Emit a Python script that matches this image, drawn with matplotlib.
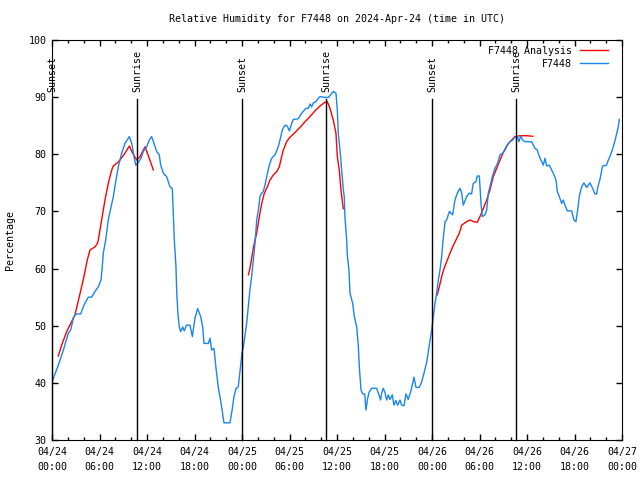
import pandas as pd
import numpy as np
import matplotlib
matplotlib.use("Agg")
import matplotlib.pyplot as plt
import matplotlib.dates as mdates
import matplotlib.transforms as mtransforms

# Station observations (hours since 2024-04-24 00:00 UTC, RH %)
obs_hours = [0.0, 0.25, 0.8, 1.43, 2.06, 2.36, 2.69, 2.99, 3.62, 3.96, 4.17, 4.59, 5.01, 5.43, 5.85,
             6.19, 6.32, 6.48, 6.78, 7.11, 7.41, 7.75, 8.08, 8.38, 8.8, 9.22, 9.5, 9.77, 10.07, 10.36,
             10.57, 10.82, 11.24, 11.53, 11.95, 12.29, 12.59, 12.88, 13.22, 13.55, 13.73, 14.06, 14.48,
             14.9, 15.2, 15.3, 15.45, 15.66, 15.75, 15.9, 16.08, 16.25, 16.5, 16.7, 17.0, 17.43, 17.73,
             18.06, 18.4, 18.78, 19.03, 19.2, 19.75, 19.96, 20.17, 20.46, 20.72, 21.0, 21.43, 21.72,
             22.48, 22.75, 22.99, 23.24, 23.53, 23.75, 24.0, 24.17, 24.38, 24.59, 24.8, 25.0, 25.22,
             25.43, 25.64, 25.86, 26.07, 26.27, 26.49, 26.69, 26.9, 27.12, 27.45, 27.75, 28.17, 28.58,
             28.8, 29.09, 29.43, 29.72, 29.98, 30.28, 30.48, 31.1, 31.45, 31.74, 32.08, 32.37, 32.6,
             32.8, 33.0, 33.35, 33.64, 33.85, 34.48, 34.9, 35.2, 35.53, 35.87, 36.04, 36.16, 36.38,
             36.59, 36.8, 36.92, 37.0, 37.22, 37.3, 37.51, 37.64, 37.98, 38.19, 38.49, 38.7, 38.82,
             39.03, 39.25, 39.5, 39.66, 39.87, 40.08, 40.38, 41.0, 41.3, 41.5, 41.64, 41.85, 42.06,
             42.27, 42.48, 42.69, 42.98, 43.2, 43.45, 43.66, 43.96, 44.17, 44.46, 44.71, 45.0, 45.31,
             45.56, 45.72, 45.98, 46.4, 46.7, 46.99, 47.33, 47.66, 47.96, 48.17, 48.38, 48.59, 48.8,
             49.01, 49.22, 49.4, 49.64, 49.85, 50.19, 50.61, 50.9, 51.2, 51.53, 51.75, 51.95, 52.38,
             52.71, 53.0, 53.21, 53.56, 53.72, 53.98, 54.19, 54.35, 54.69, 54.91, 55.11, 55.32, 55.62,
             55.96, 56.29, 56.59, 56.93, 57.22, 57.51, 57.85, 58.19, 58.48, 58.77, 58.98, 59.2, 59.45,
             59.74, 60.59, 61.0, 61.3, 61.56, 61.86, 62.06, 62.27, 62.49, 62.82, 63.12, 63.41, 63.66,
             63.83, 64.08, 64.38, 64.58, 64.8, 65.09, 65.64, 65.93, 66.18, 66.4, 66.6, 66.9, 67.19,
             67.53, 67.95, 68.29, 68.58, 68.79, 69.0, 69.2, 69.54, 70.05, 70.25, 70.56, 70.9, 71.24,
             71.53, 71.66]
obs_rh = [40.0, 41.1, 43.1, 45.7, 48.7, 49.25, 51.3, 52.05, 52.05, 53.3, 54.0, 55.0, 55.0, 56.0, 56.8,
          58.0, 59.75, 62.7, 65.0, 68.5, 70.5, 72.6, 75.5, 77.8, 80.2, 81.9, 82.5, 83.1, 81.9, 79.6,
          78.1, 78.4, 79.3, 80.5, 81.3, 82.5, 83.1, 81.9, 80.5, 79.9, 78.1, 76.7, 76.1,
          74.3, 74.0, 70.25, 65.0, 60.3, 56.0, 52.2, 49.8, 48.95, 49.8, 49.1, 50.1, 50.1, 48.1,
          51.3, 53.0, 51.6, 49.8, 46.9, 46.9, 47.8, 45.75, 46.05, 42.5, 39.3, 35.8, 33.0,
          33.0, 35.25, 37.6, 39.0, 39.3, 42.0, 45.2, 46.3, 48.4, 50.4, 53.3, 56.25, 58.6,
          61.5, 64.4, 68.5, 70.25, 72.6, 73.2, 73.5, 74.6, 76.1, 78.1, 79.3, 79.9, 81.3,
          82.5, 84.25, 85.1, 84.95, 84.1, 85.4, 86.1, 86.2, 87.05, 87.5, 88.05, 88.05, 88.8,
          88.3, 89.0, 89.2, 89.8, 90.1, 89.95, 89.95, 90.4, 91.0, 90.7, 87.75, 83.7, 80.75,
          77.25, 73.75, 72.6, 69.1, 65.0, 62.4, 59.75, 55.7, 53.9, 51.6, 49.8, 46.3, 42.8,
          38.75, 38.05, 38.05, 35.25, 37.3, 38.45, 39.05, 39.05, 37.9, 37.0, 38.2, 39.05, 38.3,
          37.0, 37.9, 37.1, 37.9, 36.1, 36.9, 36.1, 37.0, 36.1, 36.0, 38.05, 37.1, 38.45,
          39.9, 41.0, 39.2, 39.2, 40.2, 41.7, 43.6, 46.6, 49.25, 51.6, 53.9, 55.7, 58.0,
          59.75, 62.1, 65.0, 68.2, 68.5, 70.0, 69.4, 72.0, 73.2, 74.05, 73.2, 71.1, 72.6,
          73.2, 73.05, 74.9, 75.2, 76.2, 76.2, 71.4, 69.1, 69.4, 70.25, 73.2, 74.3, 76.1,
          77.55, 78.4, 79.9, 80.2, 80.75, 81.6, 82.2, 82.5, 83.0, 83.1, 82.2, 83.2, 82.5,
          82.2, 82.2, 81.05, 80.75, 79.6, 78.7, 78.1, 79.3, 77.95, 78.1, 77.25, 76.4, 75.5,
          73.5, 72.6, 71.4, 72.0, 71.1, 70.1, 70.1, 68.5, 68.2, 70.25, 72.6, 74.3, 75.0,
          74.2, 75.0, 74.05, 73.05, 73.05, 74.6, 75.5, 77.95, 78.1, 78.9, 79.9, 81.3, 83.1,
          84.8, 86.1]

# Analysis runs (three separate pieces)
ana1_hours = [0.8, 1.22, 1.85, 2.36, 2.9, 3.45, 3.96, 4.46, 4.8, 5.43, 5.73, 5.85, 6.27, 6.69, 7.11,
              7.54, 7.75, 8.25, 8.59, 9.22, 9.77, 10.19, 10.7, 11.12, 11.75, 12.29, 12.8]
ana1_rh = [44.7, 46.6, 48.95, 50.4, 51.9, 55.1, 58.1, 61.5, 63.25, 63.8, 64.4, 65.0, 68.5, 72.0, 74.9,
           77.25, 77.95, 78.5, 79.0, 80.2, 81.45, 80.2, 79.0, 79.6, 81.3, 79.3, 77.25]
ana2_hours = [24.8, 25.0, 25.22, 25.43, 25.64, 25.86, 26.19, 26.49, 26.82, 27.2, 27.54, 27.96, 28.38,
              28.71, 29.01, 29.22, 29.64, 30.06, 30.69, 31.32, 31.96, 32.59, 33.22, 33.85, 34.48,
              34.77, 35.11, 35.53, 35.87, 36.04, 36.29, 36.5, 36.71, 36.8]
ana2_rh = [58.9, 60.0, 61.8, 63.55, 65.0, 66.2, 69.1, 71.4, 73.2, 74.3, 75.5, 76.4, 76.95,
           77.8, 79.6, 80.75, 82.2, 83.0, 83.8, 84.7, 85.7, 86.6, 87.6, 88.45, 89.1,
           89.2, 88.05, 86.0, 83.7, 79.6, 77.25, 73.75, 71.4, 70.5]
ana3_hours = [48.67, 48.92, 49.22, 49.51, 49.77, 50.19, 50.61, 51.03, 51.45, 51.75, 52.38, 52.8, 53.3,
              53.72, 54.06, 54.48, 54.91, 55.32, 55.74, 56.17, 56.59, 57.0, 57.43, 57.85, 58.48,
              59.11, 59.96, 60.72]
ana3_rh = [55.4, 56.8, 58.6, 60.0, 60.9, 62.4, 63.8, 65.0, 66.2, 67.6, 68.2, 68.5, 68.2,
           68.1, 69.1, 70.5, 72.0, 73.75, 76.1, 77.55, 79.0, 80.3, 81.45, 82.2, 83.1,
           83.25, 83.25, 83.15]

sunset_hours = [0.04, 24.03, 48.03]
sunrise_hours = [10.78, 34.63, 58.62]

start = pd.Timestamp("2024-04-24 00:00")


def to_time(hours):
    return start + pd.to_timedelta(np.array(hours), unit="h")


plt.rcParams['font.family'] = ['DejaVu Sans Mono']
plt.rcParams['font.size'] = 7.2

fig = plt.figure(figsize=(6.4, 4.8), dpi=100)
ax = fig.add_axes([52 / 640, 40 / 480, 570 / 640, 400 / 480])

blue = '#1a84f0'
red = '#ff0000'

ax.plot(to_time(ana1_hours), ana1_rh, color=red, lw=1, label='F7448 Analysis')
ax.plot(to_time(ana2_hours), ana2_rh, color=red, lw=1)
ax.plot(to_time(ana3_hours), ana3_rh, color=red, lw=1)
ax.plot(to_time(obs_hours), obs_rh, color=blue, lw=1, label='F7448')

# sunrise / sunset markers
trans = mtransforms.blended_transform_factory(ax.transData, ax.transAxes)
for name, hrs in (("Sunset", sunset_hours), ("Sunrise", sunrise_hours)):
    for t in to_time(hrs):
        tn = mdates.date2num(t)
        ax.plot([tn, tn], [0, 0.8525], color='black', lw=1, transform=trans, clip_on=False)
        ax.text(tn, 0.87, name, rotation=90, ha='center', va='bottom', transform=trans)

ax.set_xlim(start, start + pd.Timedelta(hours=72))
ax.set_ylim(30, 100)
ax.set_yticks(range(30, 101, 10))
ax.xaxis.set_major_locator(mdates.HourLocator(byhour=[0, 6, 12, 18]))
ax.xaxis.set_minor_locator(mdates.HourLocator(byhour=range(0, 24, 2)))
ax.xaxis.set_major_formatter(mdates.DateFormatter('%m/%d\n%H:%M'))
ax.tick_params(which='both', direction='in', top=True, right=True, width=1)
ax.tick_params(which='major', length=4)
ax.tick_params(which='minor', length=2.5)
ax.tick_params(axis='x', which='major', pad=5)
ax.tick_params(axis='y', which='major', pad=4)
for lab in ax.get_xticklabels():
    lab.set_linespacing(1.6)

# title is centred over the plot area, not the figure
fig.text(337 / 640, 1 - 19 / 480, 'Relative Humidity for F7448 on 2024-Apr-24 (time in UTC)',
         ha='center', va='center')
fig.text(10 / 640, 0.5, 'Percentage', rotation=90, ha='center', va='center')

ax.legend(loc='upper right', bbox_to_anchor=(1 - 10 / 570, 1 - 2 / 400), frameon=False,
          markerfirst=False, handlelength=2.8, handletextpad=0.8, labelspacing=0.3,
          borderaxespad=0.2, borderpad=0.2)

plt.savefig('out.png', dpi=100)
